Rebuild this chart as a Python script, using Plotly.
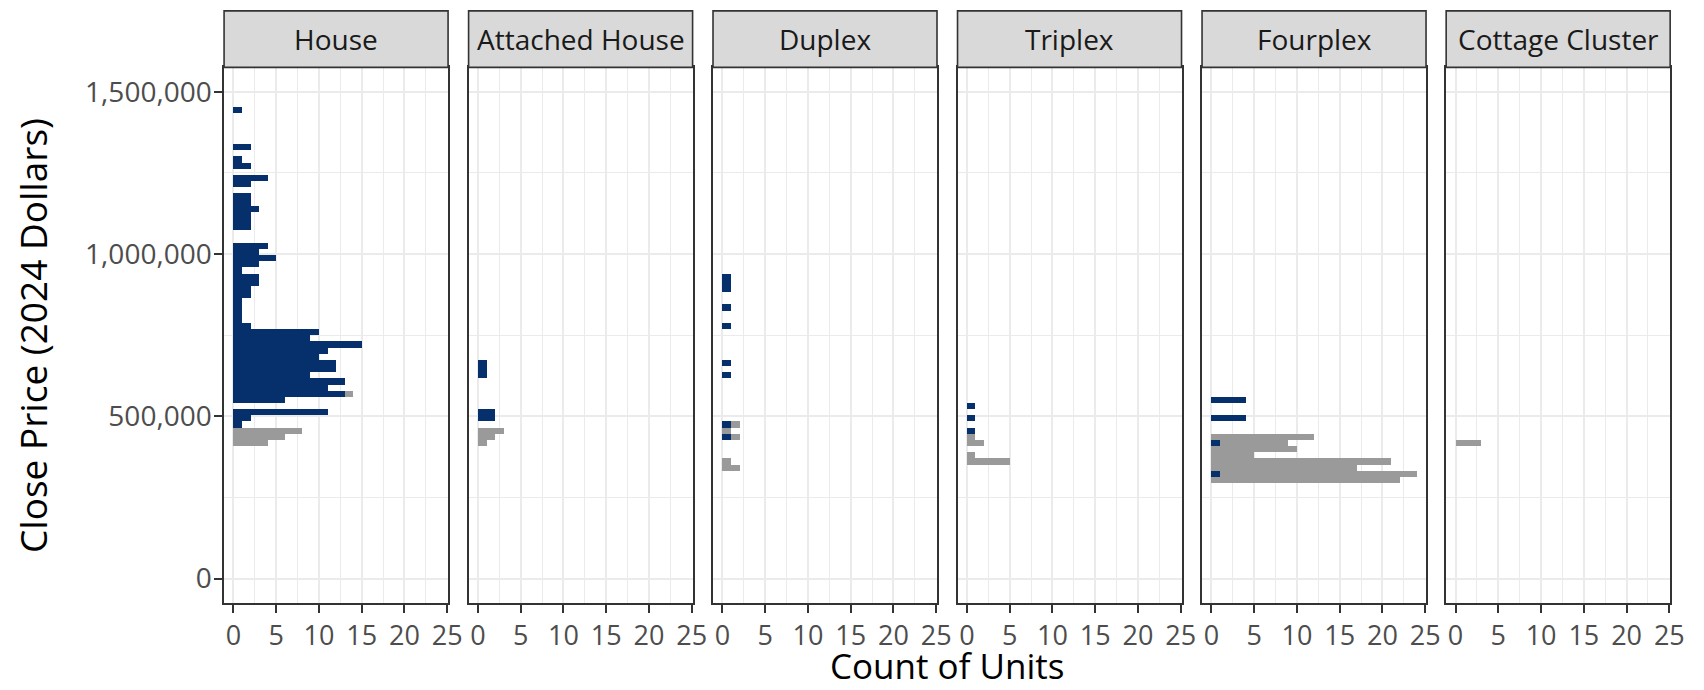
import plotly.graph_objects as go

# ---------------- data (histogram bins of close price, counts of units) -------------
types = ["House", "Attached House", "Duplex", "Triplex", "Fourplex", "Cottage Cluster"]

BIN_WIDTH = 1500000 / 79  # histogram bin width (80 bins over 0..1.5M)

# bin midpoints (2024 dollars) and counts; blue = market series, gray = second series
house_blue_price = [1443038, 1329114, 1291139, 1272152, 1234177, 1215190, 1177215, 1158228,
                    1139241, 1120253, 1101266, 1082278, 1025316, 1006329, 987342, 968354,
                    949367, 930380, 911392, 892405, 873418, 854430, 835443, 816456, 797468,
                    778481, 759494, 740506, 721519, 702532, 683544, 664557, 645570, 626582,
                    607595, 588608, 569620, 550633, 512658, 493671, 474684]
house_blue_count = [1, 2, 1, 2, 4, 2, 2, 2,
                    3, 2, 2, 2, 4, 3, 5, 3,
                    1, 3, 3, 2, 2, 1, 1, 1, 1,
                    2, 10, 9, 15, 11, 10, 12, 12, 9,
                    13, 11, 13, 6, 11, 2, 1]
house_gray_price = [569620, 455696, 436709, 417722]
house_gray_count = [1, 8, 6, 4]

attached_blue_price = [664557, 645570, 626582, 512658, 493671]
attached_blue_count = [1, 1, 1, 2, 2]
attached_gray_price = [455696, 436709, 417722]
attached_gray_count = [3, 2, 1]

duplex_blue_price = [930380, 911392, 892405, 835443, 778481, 664557, 626582, 474684, 436709]
duplex_blue_count = [1, 1, 1, 1, 1, 1, 1, 1, 1]
duplex_gray_price = [474684, 455696, 436709, 360759, 341772]
duplex_gray_count = [1, 1, 1, 1, 2]

triplex_blue_price = [531646, 493671, 455696]
triplex_blue_count = [1, 1, 1]
triplex_gray_price = [436709, 417722, 379747, 360759]
triplex_gray_count = [1, 2, 1, 5]

fourplex_blue_price = [550633, 493671, 417722, 322785]
fourplex_blue_count = [4, 4, 1, 1]
fourplex_gray_price = [436709, 417722, 398734, 379747, 360759, 341772, 322785, 303797]
fourplex_gray_count = [12, 8, 10, 5, 21, 17, 23, 22]

cottage_blue_price = []
cottage_blue_count = []
cottage_gray_price = [417722]
cottage_gray_count = [3]

x_tickvals = [0, 5, 10, 15, 20, 25]
y_tickvals = [0, 500000, 1000000, 1500000]
y_ticktext = ["0", "500,000", "1,000,000", "1,500,000"]

series = [
    (house_blue_price, house_blue_count, house_gray_price, house_gray_count),
    (attached_blue_price, attached_blue_count, attached_gray_price, attached_gray_count),
    (duplex_blue_price, duplex_blue_count, duplex_gray_price, duplex_gray_count),
    (triplex_blue_price, triplex_blue_count, triplex_gray_price, triplex_gray_count),
    (fourplex_blue_price, fourplex_blue_count, fourplex_gray_price, fourplex_gray_count),
    (cottage_blue_price, cottage_blue_count, cottage_gray_price, cottage_gray_count),
]

# ---------------- style / layout ----------------
PAGE_W, PAGE_H = 1704, 690
OFF = 8                      # default body margin of the html page
W, H = PAGE_W - OFF, PAGE_H - OFF
BLUE = "#06306B"
GRAY = "#9A9A9A"
GRID = "#EBEBEB"
DARK = "#333333"
FONT = "Open Sans"


def px(p):   # page x pixel -> paper
    return (p - OFF) / W


def py(p):   # page y pixel -> paper
    return 1 - (p - OFF) / H


panel_left = [226, 472.7, 719.3, 966, 1212.7, 1459]
panel_w = 226
panel_top, panel_bot = 67.4, 603
strip_top = 10.9

y_dom = [py(panel_bot), py(panel_top)]

fig = go.Figure()
layout = dict(
    width=W, height=H,
    margin=dict(l=0, r=0, t=0, b=0),
    paper_bgcolor="white", plot_bgcolor="white",
    barmode="stack", showlegend=False,
    font=dict(family=FONT, color="#4D4D4D"),
)
shapes, annotations = [], []

for i, (name, (bp, bc, gp, gc)) in enumerate(zip(types, series)):
    sx = "" if i == 0 else str(i + 1)
    xa, ya = "x" + sx, "y" + sx
    fig.add_trace(go.Bar(x=bc, y=bp, orientation="h", width=BIN_WIDTH,
                         marker=dict(color=BLUE, line=dict(width=0)),
                         xaxis=xa, yaxis=ya, name="blue"))
    fig.add_trace(go.Bar(x=gc, y=gp, orientation="h", width=BIN_WIDTH,
                         marker=dict(color=GRAY, line=dict(width=0)),
                         xaxis=xa, yaxis=ya, name="gray"))
    l = panel_left[i]
    layout["xaxis" + sx] = dict(
        domain=[px(l), px(l + panel_w)], anchor=ya, range=[-1.1, 25.1],
        tickvals=x_tickvals, ticks="outside", ticklen=8, tickwidth=2, tickcolor=DARK,
        tickfont=dict(size=27, color="#4D4D4D", family=FONT),
        showgrid=True, gridcolor=GRID, gridwidth=2, zeroline=False,
        minor=dict(tick0=0, dtick=2.5, showgrid=True, gridcolor=GRID, gridwidth=1.3, ticks=""),
        showline=True, mirror=True, linecolor=DARK, linewidth=1.6,
    )
    ydict = dict(
        domain=y_dom, anchor=xa, range=[-75000, 1575000],
        tickvals=y_tickvals, ticktext=y_ticktext,
        showgrid=True, gridcolor=GRID, gridwidth=2, zeroline=False,
        minor=dict(tick0=0, dtick=250000, showgrid=True, gridcolor=GRID, gridwidth=1.3, ticks=""),
        showline=True, mirror=True, linecolor=DARK, linewidth=1.6,
    )
    if i == 0:
        ydict.update(ticks="outside", ticklen=8, tickwidth=2, tickcolor=DARK,
                     ticklabelstandoff=-3,
                     tickfont=dict(size=28, color="#4D4D4D", family=FONT))
    else:
        ydict.update(matches="y", showticklabels=False, ticks="")
    layout["yaxis" + sx] = ydict

    # strip
    shapes.append(dict(type="rect", xref="paper", yref="paper",
                       x0=px(l), x1=px(l + panel_w),
                       y0=py(panel_top), y1=py(strip_top),
                       fillcolor="#D9D9D9", line=dict(color=DARK, width=1.6), layer="above"))
    annotations.append(dict(text=name, xref="paper", yref="paper",
                            x=px(l + panel_w / 2), y=py((strip_top + panel_top) / 2),
                            xanchor="center", yanchor="middle", showarrow=False,
                            font=dict(size=28, color="#1A1A1A", family=FONT)))

annotations.append(dict(text="Close Price (2024 Dollars)", xref="paper", yref="paper",
                        x=px(32), y=py((panel_top + panel_bot) / 2), textangle=-90,
                        xanchor="center", yanchor="middle", showarrow=False,
                        font=dict(size=37, color="#000000", family=FONT)))
annotations.append(dict(text="Count of Units", xref="paper", yref="paper",
                        x=px((panel_left[0] + panel_left[-1] + panel_w) / 2), y=py(665),
                        xanchor="center", yanchor="middle", showarrow=False,
                        font=dict(size=35, color="#000000", family=FONT)))

layout["shapes"] = shapes
layout["annotations"] = annotations
fig.update_layout(**layout)
fig.write_html("out.html")
